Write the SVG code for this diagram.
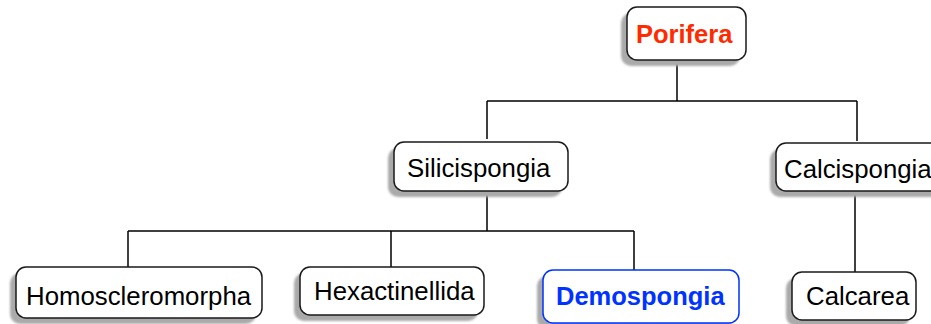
<svg xmlns="http://www.w3.org/2000/svg" width="931" height="324" viewBox="0 0 931 324">
<style>
.box{fill:#fff;stroke:#1a1a1a;stroke-width:1.5}
.sh{fill:#aaa;filter:url(#blur)}
.t{font-family:"Liberation Sans",Arial,sans-serif;font-size:25.8px;fill:#000}
.b{font-weight:bold;font-size:25.5px}
.c{fill:none;stroke:#000;stroke-width:1.5}
</style>
<defs><filter id="blur" x="-10%" y="-20%" width="120%" height="140%"><feGaussianBlur stdDeviation="1"/></filter></defs>
<g id="connectors" class="c">
<path d="M677 60V101M487 101H857M487 101V139M857 101V141"/>
<path d="M487 191V231M128 231H634M128 231V268M391 231V268M634 231V270"/>
<path d="M855 191V272"/>
</g>
<g id="porifera">
<rect class="sh" x="621" y="13" width="119" height="53" rx="10"/>
<rect class="box" x="627" y="7" width="119" height="53" rx="10"/>
<text class="t b" x="636" y="43" style="fill:#ff2a00">Porifera</text>
</g>
<g id="silicispongia">
<rect class="sh" x="388" y="148" width="174" height="49" rx="10"/>
<rect class="box" x="394" y="142" width="174" height="49" rx="10"/>
<text class="t" x="407" y="177">Silicispongia</text>
</g>
<g id="calcispongia">
<rect class="sh" x="770" y="149" width="175" height="48" rx="10"/>
<rect class="box" x="776" y="143" width="175" height="48" rx="10"/>
<text class="t" x="784" y="178">Calcispongia</text>
</g>
<g id="homoscleromorpha">
<rect class="sh" x="10" y="273" width="246" height="51" rx="10"/>
<rect class="box" x="16" y="267" width="246" height="51" rx="10"/>
<text class="t" x="26" y="305">Homoscleromorpha</text>
</g>
<g id="hexactinellida">
<rect class="sh" x="294" y="273" width="184" height="48" rx="10"/>
<rect class="box" x="300" y="267" width="184" height="48" rx="10"/>
<text class="t" x="314" y="300">Hexactinellida</text>
</g>
<g id="demospongia">
<rect class="sh" x="537" y="276" width="196" height="53" rx="10"/>
<rect class="box" x="543" y="270" width="196" height="53" rx="10" style="stroke:#0033ff"/>
<text class="t b" x="556" y="305" style="fill:#0033ff">Demospongia</text>
</g>
<g id="calcarea">
<rect class="sh" x="786" y="278" width="124" height="48" rx="10"/>
<rect class="box" x="792" y="272" width="124" height="48" rx="10"/>
<text class="t" x="806" y="305">Calcarea</text>
</g>
</svg>
